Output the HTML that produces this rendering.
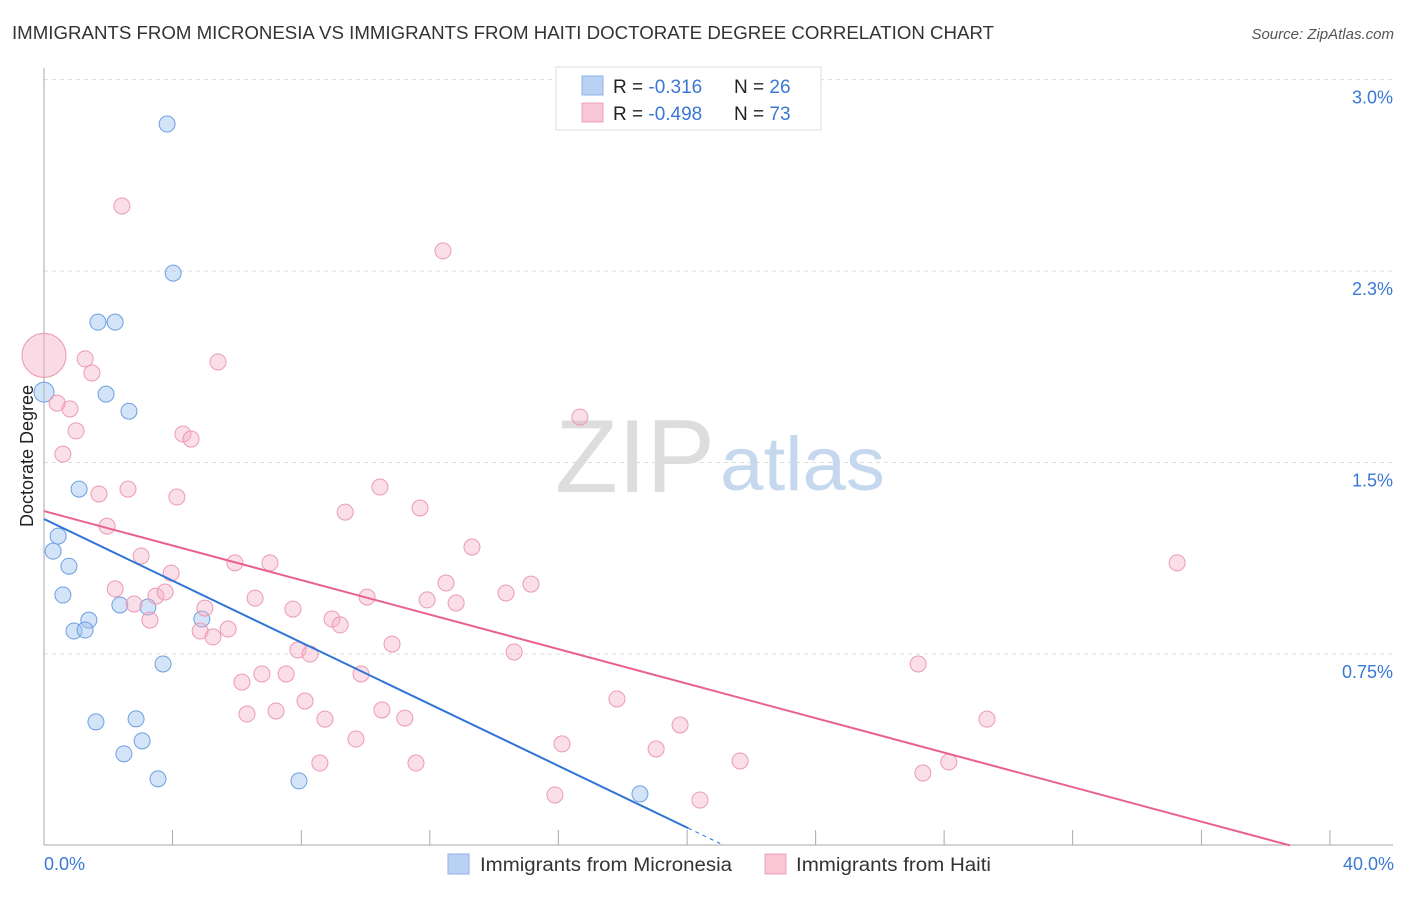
<!DOCTYPE html>
<html><head><meta charset="utf-8"><style>
body{margin:0;background:#fff;font-family:"Liberation Sans",sans-serif}
svg text{font-family:"Liberation Sans",sans-serif}
</style></head><body>
<svg id="chart" width="1406" height="892" xmlns="http://www.w3.org/2000/svg">
<text x="12" y="39" font-size="18.5" fill="#333" textLength="982" lengthAdjust="spacingAndGlyphs">IMMIGRANTS FROM MICRONESIA VS IMMIGRANTS FROM HAITI DOCTORATE DEGREE CORRELATION CHART</text>
<text x="1394" y="39" font-size="15" fill="#555" text-anchor="end" font-style="italic">Source: ZipAtlas.com</text>
<g id="grid"></g>
<text x="555" y="492" font-size="104" font-family="Liberation Serif" fill="#ddd" textLength="160" lengthAdjust="spacingAndGlyphs">ZIP</text>
<text x="720" y="490" font-size="76" fill="#c5d8ee" textLength="165" lengthAdjust="spacingAndGlyphs">atlas</text>
<line x1="44" y1="68" x2="44" y2="845" stroke="#aaa"/>
<line x1="44" y1="845" x2="1393" y2="845" stroke="#aaa"/>
<g id="ticks"></g>
<g id="pts"></g>
<g id="lines"></g>
<text x="33" y="456" font-size="18" fill="#222" text-anchor="middle" transform="rotate(-90 33 456)">Doctorate Degree</text>
<text x="44" y="870" font-size="18" fill="#3a78d4">0.0%</text>
<text x="1394" y="870" font-size="18" fill="#3a78d4" text-anchor="end">40.0%</text>
<g>
<rect x="556" y="67" width="265" height="63" fill="#fff" stroke="#ddd"/>
<rect x="582" y="76" width="21" height="19" fill="#b9d2f3" stroke="#8fb3e6"/>
<rect x="582" y="103" width="21" height="19" fill="#f9c6d5" stroke="#eda3ba"/>
<text x="613" y="93" font-size="19" fill="#222">R = <tspan fill="#3a78d4"> -0.316</tspan><tspan x="734">N = </tspan><tspan fill="#3a78d4">26</tspan></text>
<text x="613" y="120" font-size="19" fill="#222">R = <tspan fill="#3a78d4">-0.498</tspan><tspan x="734">N = </tspan><tspan fill="#3a78d4">73</tspan></text>
</g>
<g>
<rect x="448" y="854" width="21" height="20" fill="#b9d2f3" stroke="#8fb3e6"/>
<text x="480" y="871" font-size="19" fill="#333" textLength="252" lengthAdjust="spacingAndGlyphs">Immigrants from Micronesia</text>
<rect x="765" y="854" width="21" height="20" fill="#f9c6d5" stroke="#eda3ba"/>
<text x="796" y="871" font-size="19" fill="#333" textLength="195" lengthAdjust="spacingAndGlyphs">Immigrants from Haiti</text>
</g>
</svg>
<script>
const yTicks=[3.0,2.25,1.5,0.75];
const yTickLabels=["3.0%","2.3%","1.5%","0.75%"];
const xTickVals=[0,3.81,7.63,11.44,15.25,19.07,22.88,26.69,30.5,34.32,38.13];
const blueX=[3.65,3.83,1.60,2.11,0,1.84,2.52,1.04,0.42,0.27,0.74,0.56,2.25,3.08,1.33,4.68,0.89,1.22,3.53,1.54,2.73,2.91,2.37,3.38,7.56,17.67];
const blueY=[2.826,2.242,2.050,2.050,1.776,1.768,1.701,1.396,1.212,1.153,1.094,0.981,0.942,0.934,0.883,0.887,0.840,0.844,0.711,0.484,0.496,0.410,0.359,0.261,0.253,0.202];
const pinkPx=[[122,206],[443,251],[85,359],[218,362],[92,373],[57,403],[70,409],[580,417],[76,431],[183,434],[191,439],[63,454],[380,487],[128,489],[99,494],[177,497],[420,508],[345,512],[107,526],[472,547],[141,556],[1177,563],[235,563],[270,563],[171,573],[446,583],[531,584],[115,589],[156,596],[165,592],[506,593],[255,598],[367,597],[427,600],[456,603],[134,604],[205,608],[293,609],[150,620],[332,619],[340,625],[200,631],[228,629],[213,637],[392,644],[298,650],[310,654],[514,652],[918,664],[262,674],[286,674],[361,674],[242,682],[305,701],[617,699],[382,710],[247,714],[276,711],[325,719],[405,718],[987,719],[680,725],[356,739],[562,744],[656,749],[320,763],[416,763],[740,761],[949,762],[923,773],[555,795],[700,800]];
const pinkX=pinkPx.map(p=>+((p[0]-44)/33.725).toFixed(2));
const pinkY=pinkPx.map(p=>+((845.5-p[1])/255.3).toFixed(3));
const bigPinkX=[0], bigPinkY=[1.920];
const blueTrend=[1.279,-0.0634];
const pinkTrend=[1.310,-0.03545];
const blueTrendEnd=[19.1,20.05];
const pinkTrendEnd=[36.95];
const X=v=>44+v*33.725, Y=v=>845.5-v*255.3;
const NS="http://www.w3.org/2000/svg";
function mk(t,a,parent){const e=document.createElementNS(NS,t);for(const k in a)e.setAttribute(k,a[k]);document.getElementById(parent).appendChild(e);return e;}
yTicks.forEach((v,i)=>{
 const l=mk('line',{x1:44,x2:1393,y1:Y(v),y2:Y(v),stroke:'#ddd','stroke-dasharray':'4,4'},'grid');
 
 
 const t=mk('text',{x:1393,y:Y(v)+24,'font-size':18,fill:'#3a78d4','text-anchor':'end'},'grid');
 t.textContent=yTickLabels[i];
 
 
});
xTickVals.forEach(v=>{
 const l=mk('line',{x1:X(v),x2:X(v),y1:830,y2:845,stroke:'#aaa'},'ticks');
 
 
});
blueX.forEach((x,i)=>{
 const c=mk('circle',{cx:X(x),cy:Y(blueY[i]),r:x===0?10:8,fill:'rgba(160,195,240,0.45)',stroke:'#6d9fe0','stroke-width':1},'pts');
 
 
});
bigPinkX.forEach((x,i)=>{
 const c=mk('circle',{cx:X(x),cy:Y(bigPinkY[i]),r:22,fill:'rgba(245,175,198,0.45)',stroke:'#ec9ab4','stroke-width':1},'pts');
 
 
});
pinkX.forEach((x,i)=>{
 const c=mk('circle',{cx:X(x),cy:Y(pinkY[i]),r:8,fill:'rgba(245,175,198,0.4)',stroke:'#ec9ab4','stroke-width':1},'pts');
 
 
});
const bl=mk('line',{x1:X(0),y1:Y(blueTrend[0]),x2:X(blueTrendEnd[0]),y2:Y(blueTrend[0]+blueTrend[1]*blueTrendEnd[0]),stroke:'#2f74d6','stroke-width':2},'lines');


const bd=mk('line',{x1:X(blueTrendEnd[0]),y1:Y(blueTrend[0]+blueTrend[1]*blueTrendEnd[0]),x2:X(blueTrendEnd[1]),y2:Y(blueTrend[0]+blueTrend[1]*blueTrendEnd[1]),stroke:'#2f74d6','stroke-width':1,'stroke-dasharray':'4,4'},'lines');


const pl=mk('line',{x1:X(0),y1:Y(pinkTrend[0]),x2:X(pinkTrendEnd[0]),y2:Y(pinkTrend[0]+pinkTrend[1]*pinkTrendEnd[0]),stroke:'#e8628d','stroke-width':2},'lines');


</script>
</body></html>
